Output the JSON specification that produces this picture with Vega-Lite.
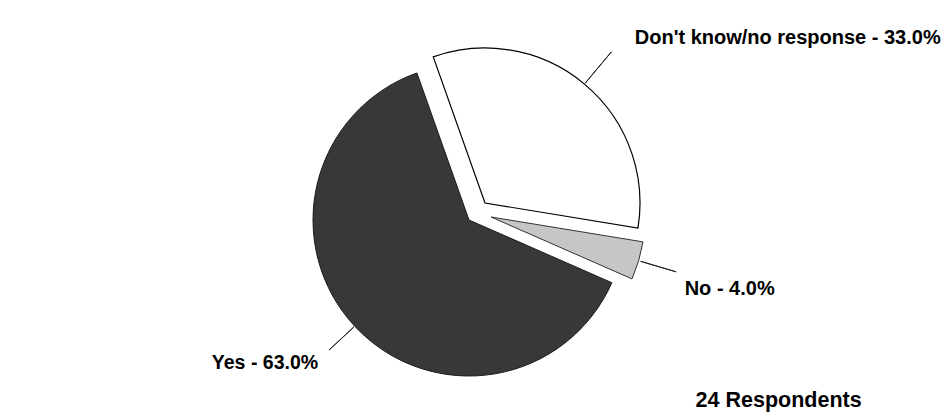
{
  "$schema": "https://vega.github.io/schema/vega-lite/v6.json",
  "width": 938,
  "height": 392,
  "padding": {"left": 0, "top": 24, "right": 5, "bottom": 0},
  "autosize": {"type": "none"},
  "background": "white",
  "title": {
    "text": "24 Respondents",
    "orient": "bottom",
    "anchor": "end",
    "offset": 0,
    "baseline": "alphabetic",
    "dx": -79,
    "dy": -9,
    "font": "Liberation Sans",
    "fontSize": 21.5,
    "fontWeight": "bold",
    "color": "#000000"
  },
  "data": {
    "values": [
      {"answer": "Don't know/no response", "pct": 33, "label": "Don't know/no response - 33.0%"},
      {"answer": "No", "pct": 4, "label": "No - 4.0%"},
      {"answer": "Yes", "pct": 63, "label": "Yes - 63.0%"}
    ]
  },
  "resolve": {"scale": {"theta": "independent"}},
  "layer": [
    {
      "transform": [
        {"stack": "pct", "groupby": [], "as": ["v0", "v1"], "sort": [{"field": "answer", "order": "ascending"}]},
        {"filter": "datum.answer === 'Don\\'t know/no response'"}
      ],
      "resolve": {"scale": {"theta": "independent"}},
      "layer": [
        {
          "mark": {"type": "arc", "outerRadius": 155, "fill": "#ffffff", "stroke": "#000000", "strokeWidth": 1.2, "xOffset": 16, "yOffset": -17},
          "encoding": {
            "theta": {"field": "v0", "type": "quantitative", "scale": {"domain": [0, 100], "range": [-0.34034, 5.94285]}},
            "theta2": {"field": "v1"}
          }
        },
        {
          "transform": [
            {"fold": ["v0", "v1"], "as": ["edge", "angle"]},
            {"stack": "angle", "groupby": [], "as": ["m0", "m1"], "sort": [{"field": "edge", "order": "ascending"}]},
            {"filter": "datum.edge === 'v1'"}
          ],
          "layer": [
            {
              "mark": {"type": "arc", "innerRadius": 156, "outerRadius": 197, "fill": "transparent", "stroke": "#222222", "strokeWidth": 1, "xOffset": 16, "yOffset": -17},
              "encoding": {
                "theta": {"field": "m1", "type": "quantitative", "scale": {"domain": [0, 200], "range": [-0.34034, 5.94285]}},
                "theta2": {"field": "m1"}
              }
            },
            {
              "mark": {"type": "text", "radius": 207, "align": "left", "baseline": "alphabetic", "dx": 17, "xOffset": 16, "yOffset": -17, "font": "Liberation Sans", "fontSize": 20, "fontWeight": "bold", "color": "#000000"},
              "encoding": {
                "theta": {"field": "m1", "type": "quantitative"},
                "text": {"field": "label"}
              }
            }
          ]
        }
      ]
    },
    {
      "transform": [
        {"stack": "pct", "groupby": [], "as": ["v0", "v1"], "sort": [{"field": "answer", "order": "ascending"}]},
        {"filter": "datum.answer === 'No'"}
      ],
      "resolve": {"scale": {"theta": "independent"}},
      "layer": [
        {
          "mark": {"type": "arc", "outerRadius": 154, "fill": "#c6c6c6", "stroke": "#333333", "strokeWidth": 1, "xOffset": 22, "yOffset": -3},
          "encoding": {
            "theta": {"field": "v0", "type": "quantitative", "scale": {"domain": [0, 100], "range": [-0.34034, 5.94285]}},
            "theta2": {"field": "v1"}
          }
        },
        {
          "transform": [
            {"fold": ["v0", "v1"], "as": ["edge", "angle"]},
            {"stack": "angle", "groupby": [], "as": ["m0", "m1"], "sort": [{"field": "edge", "order": "ascending"}]},
            {"filter": "datum.edge === 'v1'"}
          ],
          "layer": [
            {
              "mark": {"type": "arc", "innerRadius": 156, "outerRadius": 193, "fill": "transparent", "stroke": "#222222", "strokeWidth": 1, "xOffset": 22, "yOffset": -3},
              "encoding": {
                "theta": {"field": "m1", "type": "quantitative", "scale": {"domain": [0, 200], "range": [-0.34034, 5.94285]}},
                "theta2": {"field": "m1"}
              }
            },
            {
              "mark": {"type": "text", "radius": 202, "align": "left", "baseline": "alphabetic", "dy": 21, "xOffset": 22, "yOffset": -3, "font": "Liberation Sans", "fontSize": 20, "fontWeight": "bold", "color": "#000000"},
              "encoding": {
                "theta": {"field": "m1", "type": "quantitative"},
                "text": {"field": "label"}
              }
            }
          ]
        }
      ]
    },
    {
      "transform": [
        {"stack": "pct", "groupby": [], "as": ["v0", "v1"], "sort": [{"field": "answer", "order": "ascending"}]},
        {"filter": "datum.answer === 'Yes'"}
      ],
      "resolve": {"scale": {"theta": "independent"}},
      "layer": [
        {
          "mark": {"type": "arc", "outerRadius": 156, "fill": "#383838", "stroke": "#1a1a1a", "strokeWidth": 1},
          "encoding": {
            "theta": {"field": "v0", "type": "quantitative", "scale": {"domain": [0, 100], "range": [-0.34034, 5.94285]}},
            "theta2": {"field": "v1"}
          }
        },
        {
          "transform": [
            {"fold": ["v0", "v1"], "as": ["edge", "angle"]},
            {"stack": "angle", "groupby": [], "as": ["m0", "m1"], "sort": [{"field": "edge", "order": "ascending"}]},
            {"filter": "datum.edge === 'v1'"}
          ],
          "layer": [
            {
              "mark": {"type": "arc", "innerRadius": 157, "outerRadius": 191, "fill": "transparent", "stroke": "#222222", "strokeWidth": 1},
              "encoding": {
                "theta": {"field": "m1", "type": "quantitative", "scale": {"domain": [0, 200], "range": [-0.34034, 5.94285]}},
                "theta2": {"field": "m1"}
              }
            },
            {
              "mark": {"type": "text", "radius": 206, "align": "right", "baseline": "alphabetic", "dy": 9, "font": "Liberation Sans", "fontSize": 19.5, "fontWeight": "bold", "color": "#000000"},
              "encoding": {
                "theta": {"field": "m1", "type": "quantitative"},
                "text": {"field": "label"}
              }
            }
          ]
        }
      ]
    }
  ],
  "config": {"view": {"stroke": null}}
}
